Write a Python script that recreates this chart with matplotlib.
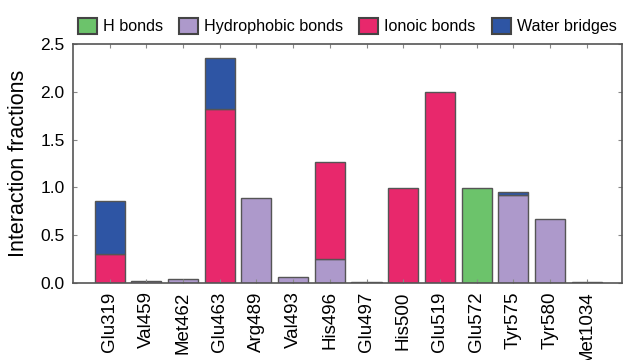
import matplotlib.pyplot as plt
import numpy as np
from matplotlib.patches import Patch

plt.rcParams['font.family'] = ['Liberation Sans', 'DejaVu Sans']

residues = ['Glu319', 'Val459', 'Met462', 'Glu463', 'Arg489', 'Val493', 'His496',
            'Glu497', 'His500', 'Glu519', 'Glu572', 'Tyr575', 'Tyr580', 'Met1034']
h_bonds = [0, 0, 0, 0, 0, 0, 0, 0, 0, 0, 0.99, 0, 0, 0]
hydrophobic = [0, 0.02, 0.04, 0, 0.89, 0.06, 0.25, 0.005, 0, 0, 0, 0.92, 0.67, 0.005]
ionic = [0.30, 0, 0, 1.82, 0, 0, 1.01, 0, 0.99, 2.0, 0, 0, 0, 0]
water = [0.56, 0, 0, 0.53, 0, 0, 0, 0, 0, 0, 0, 0.035, 0, 0]

labels = ['H bonds', 'Hydrophobic bonds', 'Ionoic bonds', 'Water bridges']
colors = ['#6cc36b', '#ad99cb', '#e8286c', '#2e55a4']
edge = '#555555'

fig = plt.figure(figsize=(6.24, 3.6), dpi=100)
ax = fig.add_axes([0.117, 0.214, 0.879, 0.664])

x = np.arange(len(residues))
bottom = np.zeros(len(residues))
for vals, c in zip([h_bonds, hydrophobic, ionic, water], colors):
    vals = np.array(vals)
    mask = vals > 0
    ax.bar(x[mask], vals[mask], bottom=bottom[mask], width=0.82, color=c,
           edgecolor=edge, linewidth=1.0)
    bottom += vals

ax.set_xlim(-1, 13.95)
ax.set_ylim(0, 2.5)
ax.set_yticks([0, 0.5, 1.0, 1.5, 2.0, 2.5])
ax.set_yticklabels(['0.0', '0.5', '1.0', '1.5', '2.0', '2.5'], fontsize=12.5)
ax.set_xticks(x)
ax.set_xticklabels(residues, rotation=90, fontsize=13.5)
ax.tick_params(direction='in', length=3, color='#888888', top=True, right=True,
               pad=6)
ax.set_ylabel('Interaction fractions', fontsize=15.5, labelpad=8)
for s in ax.spines.values():
    s.set_color('#555555')
    s.set_linewidth(1.2)

handles = [Patch(facecolor=c, edgecolor='#444444', linewidth=1.5) for c in colors]
fig.legend(handles, labels, loc='upper left', bbox_to_anchor=(0.109, 0.977), ncol=4,
           frameon=False, fontsize=11.6, handlelength=1.18, handleheight=1.12,
           handletextpad=0.37, columnspacing=1.0, borderaxespad=0.2)

fig.savefig('out.png', dpi=100)
